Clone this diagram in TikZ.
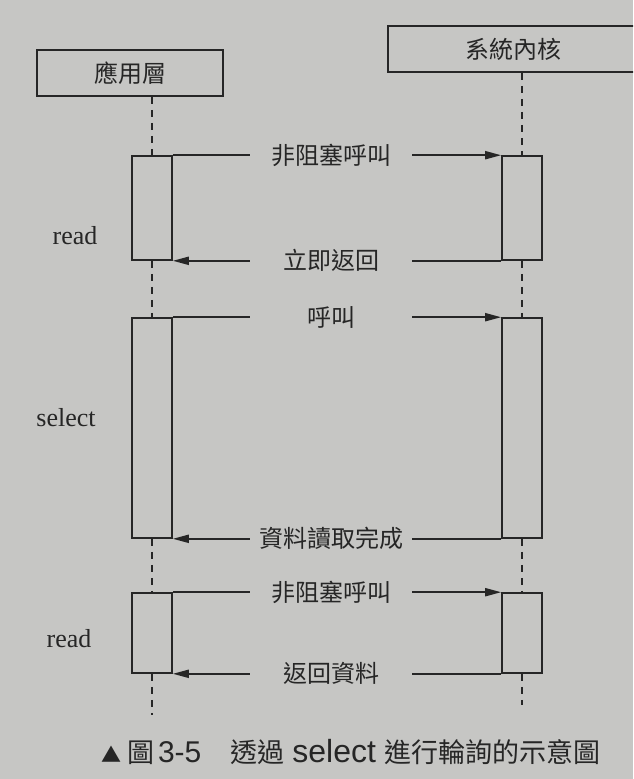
\documentclass[tikz,border=0pt]{standalone}
\usepackage{fontspec}
\setmainfont{Liberation Serif}
\newfontfamily\cjk{Noto Sans CJK TC}
\newfontfamily\capsans{Liberation Sans}
\usetikzlibrary{arrows.meta}
\definecolor{paper}{RGB}{198,198,196}
\definecolor{ink}{RGB}{38,38,38}
\tikzset{
	head/.style={draw=ink, line width=1.6pt, minimum height=46pt, inner sep=0pt, text=ink, font=\cjk\fontsize{24}{24}\selectfont},
	act/.style={draw=ink, line width=1.6pt, minimum width=40pt, inner sep=0pt},
	life/.style={draw=ink, line width=1.3pt, dash pattern=on 7pt off 6pt},
	msg/.style={draw=ink, line width=1.9pt, -{Triangle[length=16pt,width=8pt]}},
	lbl/.style={fill=paper, minimum width=162pt, minimum height=30pt, inner sep=0pt, xshift=-6pt, text=ink, font=\cjk\fontsize{24}{24}\selectfont},
	call/.style={text=ink, font=\fontsize{26}{26}\selectfont}
}
\begin{document}
\begin{tikzpicture}[x=1pt, y=-1pt]
		\clip (0,0) rectangle (633,779);
		\fill[paper] (0,0) rectangle (633,779);
		% lanes
		\node[head, minimum width=186pt](app) at (130,73){應用層};
		\node[head, minimum width=250pt](kern) at (513,49){系統內核};
		% activations
		\node[act, minimum height=104pt](appone) at (152,208){};
		\node[act, minimum height=220pt](apptwo) at (152,428){};
		\node[act, minimum height=80pt](appthree) at (152,633){};
		\node[act, minimum height=104pt](kerone) at (522,208){};
		\node[act, minimum height=220pt](kertwo) at (522,428){};
		\node[act, minimum height=80pt](kerthree) at (522,633){};
		\node[call](readone) at (75,236){read};
		\node[call](selecttwo) at (66,418){select};
		\node[call](readthree) at (69,639){read};
		\coordinate (append) at (152,715);
		\coordinate (kernend) at (522,705);
		% lifelines
		\draw [life] (appone.north |- app.south) -- (appone.north);
		\draw [life] (appone.south) -- (apptwo.north);
		\draw [life] (apptwo.south) -- (appthree.north);
		\draw [life] (appthree.south) -- (append);
		\draw [life] (kerone.north |- kern.south) -- (kerone.north);
		\draw [life] (kerone.south) -- (kertwo.north);
		\draw [life] (kertwo.south) -- (kerthree.north);
		\draw [life] (kerthree.south) -- (kernend);
		% messages
		\draw [msg] (appone.north east) -- node[lbl]{非阻塞呼叫}(kerone.north west);
		\draw [msg] (kerone.south west) -- node[lbl]{立即返回}(appone.south east);
		\draw [msg] (apptwo.north east) -- node[lbl]{呼叫}(kertwo.north west);
		\draw [msg] (kertwo.south west) -- node[lbl]{資料讀取完成}(apptwo.south east);
		\draw [msg] (appthree.north east) -- node[lbl]{非阻塞呼叫}(kerthree.north west);
		\draw [msg] (kerthree.south west) -- node[lbl]{返回資料}(appthree.south east);
		% caption
		\node[text=ink, inner sep=0pt](cap) at (351,752){{\cjk\fontsize{20}{20}\selectfont ▲}\hspace{6pt}{\cjk\fontsize{27}{27}\selectfont 圖}\hspace{4pt}{\capsans\fontsize{30}{30}\selectfont 3-5}\hspace{29pt}{\cjk\fontsize{27}{27}\selectfont 透過}\hspace{8pt}{\capsans\fontsize{32}{32}\selectfont select}\hspace{9pt}{\cjk\fontsize{27}{27}\selectfont 進行輪詢的示意圖}};
	\end{tikzpicture}
\end{document}
